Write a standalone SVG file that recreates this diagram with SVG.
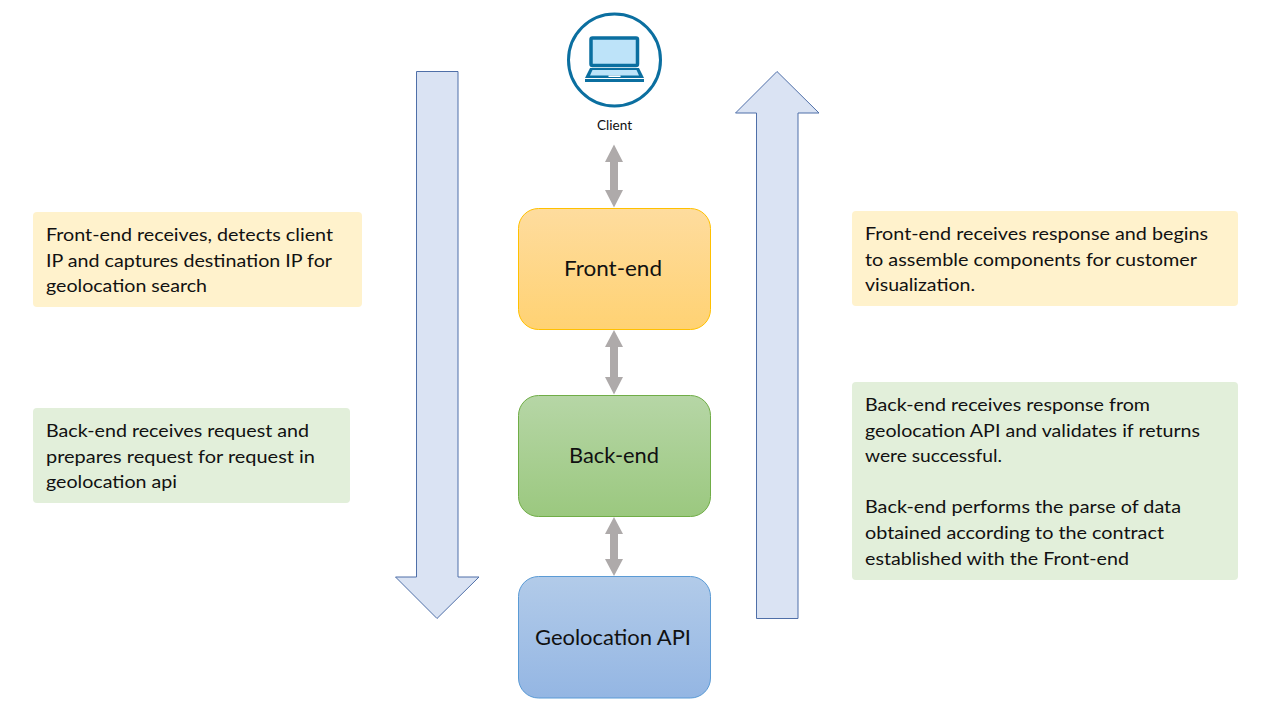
<svg xmlns="http://www.w3.org/2000/svg" width="1280" height="720" viewBox="0 0 1280 720">
<style>
text{font-family:"Lato","Carlito","Open Sans",sans-serif;fill:#111}
.n{font-size:18px}
.t{font-size:20.5px;text-anchor:middle}
.block{fill:#DAE3F3;stroke:#4F6FA8;stroke-width:1}
.dbl{fill:#AEAAAA}
.y{fill:#FFF2CC}
.g{fill:#E2EFDA}
</style>
<defs>
<linearGradient id="gf" x1="0" y1="0" x2="0" y2="1"><stop offset="0" stop-color="#FEDC9E"/><stop offset="1" stop-color="#FFD273"/></linearGradient>
<linearGradient id="gb" x1="0" y1="0" x2="0" y2="1"><stop offset="0" stop-color="#B6D6A6"/><stop offset="1" stop-color="#9BC87F"/></linearGradient>
<linearGradient id="ga" x1="0" y1="0" x2="0" y2="1"><stop offset="0" stop-color="#B2CBE9"/><stop offset="1" stop-color="#94B6E3"/></linearGradient>
</defs>
<rect width="1280" height="720" fill="#fff"/>
<g id="connectors">
<path class="block" d="M416.500 71.500H458V577H479L437 618.500L395.500 577H416.500Z"/>
<path class="block" d="M756.500 618.500H798V113H819L777 71.500L735.500 113H756.500Z"/>
<path class="dbl" d="M614 144.500L623 162H618V190H623L614 207.500L605 190H610V162H605Z"/>
<path class="dbl" d="M614 330L623 347H618V377H623L614 394.500L605 377H610V347H605Z"/>
<path class="dbl" d="M614 517L623 534H618V559H623L614 576L605 559H610V534H605Z"/>
</g>
<g id="client">
<circle cx="614.500" cy="60" r="46" fill="#fff" stroke="#0B6FA0" stroke-width="3"/>
<rect x="591" y="38" width="46.500" height="27.500" rx="1.500" fill="#BDE3F9" stroke="#0B6FA0" stroke-width="3.500"/>
<path d="M590 68H639L644 78H585Z" fill="#0B6FA0"/>
<path d="M592.500 70H636.500L639 75.500H590Z" fill="#BDE3F9"/>
<rect x="608.500" y="75.500" width="12" height="1.500" fill="#fff"/>
<rect x="585" y="79" width="59" height="3" fill="#0B6FA0"/>
<text x="614.500" y="130" font-size="12.500" text-anchor="middle" textLength="35" lengthAdjust="spacingAndGlyphs">Client</text>
</g>
<g id="front-end">
<rect x="518.500" y="208.500" width="192" height="121" rx="20" fill="url(#gf)" stroke="#FFC000"/>
<text class="t" x="613" y="276" textLength="98" lengthAdjust="spacingAndGlyphs">Front-end</text>
</g>
<g id="back-end">
<rect x="518.500" y="395.500" width="192" height="121" rx="20" fill="url(#gb)" stroke="#70AD47"/>
<text class="t" x="614" y="463" textLength="90" lengthAdjust="spacingAndGlyphs">Back-end</text>
</g>
<g id="geolocation-api">
<rect x="518.500" y="576.500" width="192" height="121.500" rx="20" fill="url(#ga)" stroke="#5B9BD5"/>
<text class="t" x="613" y="645" textLength="156" lengthAdjust="spacingAndGlyphs">Geolocation API</text>
</g>
<g id="note-front-request">
<rect class="y" x="33" y="212" width="329" height="95" rx="4"/>
<text class="n" x="46" y="240.500" textLength="287" lengthAdjust="spacingAndGlyphs">Front-end receives, detects client</text>
<text class="n" x="46" y="266.500" textLength="286" lengthAdjust="spacingAndGlyphs">IP and captures destination IP for</text>
<text class="n" x="46" y="291.500" textLength="161" lengthAdjust="spacingAndGlyphs">geolocation search</text>
</g>
<g id="note-back-request">
<rect class="g" x="33" y="408" width="317" height="95" rx="4"/>
<text class="n" x="46" y="436.500" textLength="263" lengthAdjust="spacingAndGlyphs">Back-end receives request and</text>
<text class="n" x="46" y="462.500" textLength="269" lengthAdjust="spacingAndGlyphs">prepares request for request in</text>
<text class="n" x="46" y="487.500" textLength="131" lengthAdjust="spacingAndGlyphs">geolocation api</text>
</g>
<g id="note-front-response">
<rect class="y" x="852" y="211" width="386" height="95" rx="4"/>
<text class="n" x="865" y="239.500" textLength="343" lengthAdjust="spacingAndGlyphs">Front-end receives response and begins</text>
<text class="n" x="865" y="265.500" textLength="332" lengthAdjust="spacingAndGlyphs">to assemble components for customer</text>
<text class="n" x="865" y="290.500" textLength="110" lengthAdjust="spacingAndGlyphs">visualization.</text>
</g>
<g id="note-back-response">
<rect class="g" x="852" y="382" width="386" height="198" rx="4"/>
<text class="n" x="865" y="410.500" textLength="285" lengthAdjust="spacingAndGlyphs">Back-end receives response from</text>
<text class="n" x="865" y="436.500" textLength="335" lengthAdjust="spacingAndGlyphs">geolocation API and validates if returns</text>
<text class="n" x="865" y="461.500" textLength="137" lengthAdjust="spacingAndGlyphs">were successful.</text>
<text class="n" x="865" y="512.500" textLength="316" lengthAdjust="spacingAndGlyphs">Back-end performs the parse of data</text>
<text class="n" x="865" y="538.500" textLength="299" lengthAdjust="spacingAndGlyphs">obtained according to the contract</text>
<text class="n" x="865" y="564.500" textLength="264" lengthAdjust="spacingAndGlyphs">established with the Front-end</text>
</g>
</svg>
